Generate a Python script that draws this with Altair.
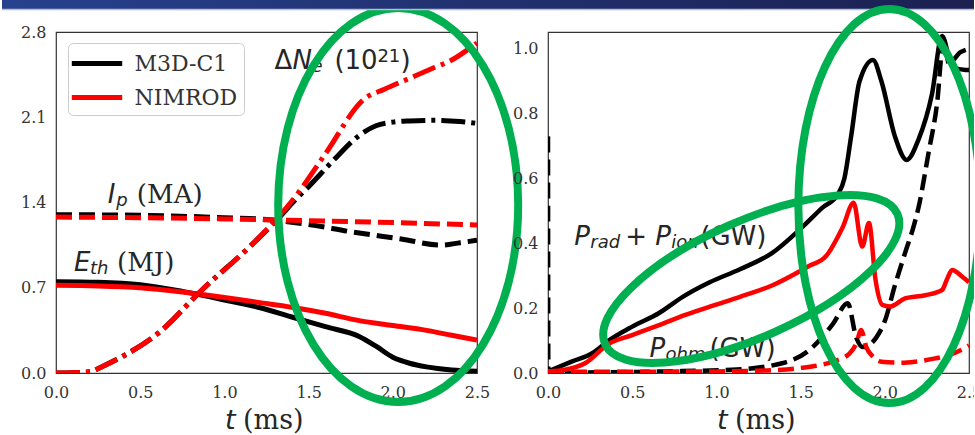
import altair as alt
import pandas as pd

# ---------------- left panel: E_th, I_p, Delta N_e ----------------
MODELS = ["M3D-C1", "NIMROD"]

T_ETH_M3D = [0, 0.25, 0.5, 0.75, 1.0, 1.2, 1.4, 1.6, 1.8, 1.9, 2.0, 2.1, 2.2, 2.35, 2.5]
ETH_M3D = [0.75, 0.745, 0.725, 0.67, 0.60, 0.54, 0.46, 0.38, 0.30, 0.22, 0.13, 0.08, 0.05, 0.025, 0.015]
T_ETH_NIM = [0, 0.25, 0.5, 0.75, 1.0, 1.2, 1.4, 1.6, 1.8, 2.0, 2.2, 2.35, 2.5]
ETH_NIM = [0.72, 0.715, 0.70, 0.665, 0.62, 0.58, 0.54, 0.49, 0.43, 0.39, 0.35, 0.31, 0.27]

T_IP_M3D = [0, 0.5, 1.0, 1.25, 1.5, 1.75, 2.05, 2.29, 2.4, 2.5]
IP_M3D = [1.30, 1.295, 1.275, 1.26, 1.22, 1.16, 1.10, 1.05, 1.07, 1.09]
T_IP_NIM = [0, 0.5, 1.0, 1.5, 2.0, 2.5]
IP_NIM = [1.28, 1.275, 1.265, 1.25, 1.235, 1.215]

T_NE_M3D = [0, 0.1, 0.2, 0.27, 0.4, 0.61, 0.865, 1.16, 1.32, 1.42, 1.5, 1.65, 1.8, 1.9, 2.0, 2.1, 2.25, 2.4, 2.5]
NE_M3D = [0, 0.002, 0.01, 0.05, 0.14, 0.33, 0.68, 1.05, 1.27, 1.42, 1.53, 1.75, 1.95, 2.03, 2.06, 2.07, 2.075, 2.065, 2.05]
T_NE_NIM = [0, 0.1, 0.2, 0.27, 0.4, 0.61, 0.865, 1.16, 1.32, 1.4, 1.6, 1.83, 1.95, 2.1, 2.25, 2.35, 2.45, 2.5]
NE_NIM = [0, 0.002, 0.01, 0.05, 0.14, 0.33, 0.68, 1.05, 1.28, 1.41, 1.80, 2.25, 2.33, 2.42, 2.51, 2.57, 2.66, 2.71]

# ---------------- right panel: radiated + ionization power, ohmic power ----------------
T_PRAD_M3D = [0, 0.14, 0.26, 0.36, 0.5, 0.66, 0.8, 0.96, 1.14, 1.33, 1.51, 1.63, 1.72, 1.76, 1.80, 1.85,
              1.93, 1.98, 2.06, 2.13, 2.2, 2.28, 2.34, 2.40, 2.48, 2.5]
PRAD_M3D = [0.005, 0.035, 0.06, 0.10, 0.143, 0.185, 0.235, 0.28, 0.32, 0.37, 0.45, 0.51, 0.55, 0.60, 0.73, 0.90,
            0.966, 0.90, 0.73, 0.657, 0.72, 0.86, 1.04, 0.945, 0.935, 0.935]
T_PRAD_NIM = [0, 0.1, 0.22, 0.36, 0.5, 0.66, 0.82, 0.98, 1.14, 1.33, 1.55, 1.65, 1.75, 1.815, 1.866, 1.906,
              1.945, 1.985, 2.03, 2.12, 2.24, 2.34, 2.37, 2.40, 2.46, 2.5]
PRAD_NIM = [0.005, 0.01, 0.03, 0.09, 0.117, 0.148, 0.18, 0.208, 0.235, 0.27, 0.33, 0.36, 0.45, 0.525, 0.39, 0.463,
            0.287, 0.21, 0.205, 0.23, 0.24, 0.256, 0.29, 0.318, 0.297, 0.28]

T_POHM_M3D = [0, 0.002, 0.3, 0.7, 1.09, 1.39, 1.55, 1.69, 1.78, 1.83, 1.87, 1.95, 2.0, 2.06, 2.12, 2.17,
              2.2, 2.26, 2.31, 2.35, 2.38, 2.45, 2.5]
POHM_M3D = [0.73, 0.0, 0.002, 0.005, 0.01, 0.03, 0.07, 0.15, 0.215, 0.11, 0.08, 0.11, 0.16, 0.27, 0.37, 0.45,
            0.51, 0.68, 0.83, 1.03, 0.955, 0.99, 1.0]
T_POHM_NIM = [0, 0.5, 1.0, 1.3, 1.49, 1.69, 1.79, 1.83, 1.86, 1.89, 1.93, 1.98, 2.1, 2.18, 2.3, 2.38, 2.45, 2.5]
POHM_NIM = [0.004, 0.004, 0.005, 0.008, 0.015, 0.035, 0.06, 0.09, 0.133, 0.08, 0.05, 0.035, 0.032, 0.035, 0.045,
            0.055, 0.07, 0.085]

# axis ticks
X_TICKS = [0, 0.5, 1.0, 1.5, 2.0, 2.5]
Y_TICKS_LEFT = [0, 0.7, 1.4, 2.1, 2.8]
Y_TICKS_RIGHT = [0, 0.2, 0.4, 0.6, 0.8, 1.0]

# highlight ellipse centres (data coordinates)
ELLIPSE_LEFT = (2.032, 1.379)
ELLIPSE_RIGHT_BIG = (2.027, 0.515)
ELLIPSE_RIGHT_SMALL = (1.207, 0.290)

GREEN = "#00b050"
BLACK = "#000000"
RED = "#ff0000"
SANS = "DejaVu Sans"
SERIF = "DejaVu Serif"
INK = "#262626"
W, H = 421, 341


def series(ts, vs, model):
    return pd.DataFrame({"t": ts, "v": vs, "model": model, "i": range(len(ts))})


x_scale = alt.Scale(domain=[0, 2.5], nice=False, zero=False)
x_enc = alt.X("t:Q", scale=x_scale,
              axis=alt.Axis(values=X_TICKS, format=".1f", title=None, labelFlush=False))
y_left = alt.Y("v:Q", scale=alt.Scale(domain=[0, 2.8], nice=False),
               axis=alt.Axis(values=Y_TICKS_LEFT, format=".1f", title=None))
y_right = alt.Y("v:Q", scale=alt.Scale(domain=[0, 1.052], nice=False),
                axis=alt.Axis(values=Y_TICKS_RIGHT, format=".1f", title=None))

# legend: a 50 px line sample per model
legend = alt.Legend(orient="none", legendX=12, legendY=11, title=None,
                    symbolType="M -2.1 0 L 2.1 0", symbolSize=576, symbolStrokeWidth=5,
                    symbolOffset=8.5, labelOffset=23, labelFont=SERIF, labelFontSize=22,
                    labelColor="#333333", rowPadding=8, padding=6,
                    strokeColor="#cccccc", fillColor="white", cornerRadius=5)
color_enc = alt.Color("model:N", scale=alt.Scale(domain=MODELS, range=[BLACK, RED]), legend=legend)


def model_lines(frames, dash, width, y_enc):
    df = pd.concat(frames, ignore_index=True)
    mark = dict(strokeWidth=width, interpolate="monotone", clip=True, strokeCap="butt")
    if dash:
        mark["strokeDash"] = dash
    return alt.Chart(df).mark_line(**mark).encode(
        x=x_enc, y=y_enc, color=color_enc, order="i:Q")


def single_line(ts, vs, color, dash, width, y_enc):
    mark = dict(strokeWidth=width, interpolate="monotone", clip=True, strokeCap="butt", color=color)
    if dash:
        mark["strokeDash"] = dash
    return alt.Chart(series(ts, vs, "")).mark_line(**mark).encode(x=x_enc, y=y_enc, order="i:Q")


def ellipse(center, rx, ry, angle, y_enc):
    k = 0.5523
    path = (f"M {rx} 0 C {rx} {k * ry} {k * rx} {ry} 0 {ry} "
            f"C {-k * rx} {ry} {-rx} {k * ry} {-rx} 0 "
            f"C {-rx} {-k * ry} {-k * rx} {-ry} 0 {-ry} "
            f"C {k * rx} {-ry} {rx} {-k * ry} {rx} 0 Z")
    mark = dict(shape=path, size=4, filled=False, strokeWidth=8, color=GREEN, opacity=1)
    if angle:
        mark["angle"] = angle
    df = pd.DataFrame({"t": [center[0]], "v": [center[1]]})
    return alt.Chart(df).mark_point(**mark).encode(x=x_enc, y=y_enc)


def math_text(anchor, pieces):
    """pieces: (text, font, italic, size, dx, dy) laid out from a data-space anchor."""
    layers = []
    for text, font, italic, size, dx, dy in pieces:
        mark = dict(text=text, font=font, fontSize=size, align="left", baseline="alphabetic",
                    dx=dx, dy=dy, color=INK)
        if italic:
            mark["fontStyle"] = "italic"
        layers.append(alt.Chart(pd.DataFrame({"a": [0]})).mark_text(**mark).encode(
            x=alt.X(datum=anchor[0], type="quantitative"),
            y=alt.Y(datum=anchor[1], type="quantitative")))
    return layers


def axis_title():
    one = pd.DataFrame({"a": [0]})
    t = alt.Chart(one).mark_text(text="t", font=SANS, fontStyle="italic", fontSize=27, align="left",
                                 baseline="alphabetic", color=INK).encode(
        x=alt.value(169), y=alt.value(H + 56))
    ms = alt.Chart(one).mark_text(text="(ms)", font=SERIF, fontSize=27, align="left",
                                  baseline="alphabetic", color=INK).encode(
        x=alt.value(187), y=alt.value(H + 56))
    return [t, ms]


# slide header strip above the panels
one_row = pd.DataFrame({"a": [0]})
banner = alt.Chart(one_row).mark_rect(
    color=alt.LinearGradient(gradient="linear", x1=0, x2=1, y1=0, y2=0,
                             stops=[alt.GradientStop(color="#27418e", offset=0),
                                    alt.GradientStop(color="#1b2050", offset=1)])
).encode(x=alt.value(-54), x2=alt.value(921), y=alt.value(-32), y2=alt.value(-23))
banner_edge = alt.Chart(one_row).mark_rule(color="#b4bdd6", strokeWidth=1.5).encode(
    x=alt.value(-54), x2=alt.value(921), y=alt.value(-22.5))

left_layers = [
    model_lines([series(T_ETH_M3D, ETH_M3D, MODELS[0]), series(T_ETH_NIM, ETH_NIM, MODELS[1])],
                None, 5, y_left),
    model_lines([series(T_IP_M3D, IP_M3D, MODELS[0]), series(T_IP_NIM, IP_NIM, MODELS[1])],
                [16, 7], 5, y_left),
    model_lines([series(T_NE_M3D, NE_M3D, MODELS[0]), series(T_NE_NIM, NE_NIM, MODELS[1])],
                [24, 6, 4, 6], 5, y_left),
]
left_layers += math_text((0.308, 1.398), [
    ("I", SANS, True, 26, 0, 0), ("p", SANS, True, 18, 8.5, 3), ("(MA)", SERIF, False, 26, 29, 0)])
left_layers += math_text((0.107, 0.838), [
    ("E", SANS, True, 26, 0, 0), ("th", SANS, True, 18, 16, 3), ("(MJ)", SERIF, False, 26, 43, 0)])
left_layers += math_text((1.297, 2.494), [
    ("Δ", SANS, False, 26, 0, 0), ("N", SANS, True, 26, 18, 0), ("e", SANS, True, 18, 37, 3),
    ("(10", SANS, False, 26, 60, 0), ("21", SANS, False, 18, 103, -7), (")", SANS, False, 26, 126, 0)])
left_layers += axis_title()
left_layers += [ellipse(ELLIPSE_LEFT, 120, 197, 0, y_left), banner, banner_edge]

left = alt.layer(*left_layers).properties(width=W, height=H)

right_layers = [
    single_line(T_POHM_M3D, POHM_M3D, BLACK, [16, 7], 4.5, y_right),
    single_line(T_PRAD_M3D, PRAD_M3D, BLACK, None, 4.5, y_right),
    single_line(T_POHM_NIM, POHM_NIM, RED, [16, 7], 4.5, y_right),
    single_line(T_PRAD_NIM, PRAD_NIM, RED, None, 4.5, y_right),
]
right_layers += math_text((0.156, 0.395), [
    ("P", SANS, True, 26, 0, 0), ("rad", SANS, True, 18, 16, 3), ("+", SANS, False, 26, 51, 0),
    ("P", SANS, True, 26, 81, 0), ("ion", SANS, True, 18, 97, 3), ("(GW)", SANS, False, 26, 126, 0)])
right_layers += math_text((0.602, 0.050), [
    ("P", SANS, True, 26, 0, 0), ("ohm", SANS, True, 18, 16, 3), ("(GW)", SANS, False, 26, 60, 0)])
right_layers += axis_title()
right_layers += [ellipse(ELLIPSE_RIGHT_BIG, 91, 197, 0, y_right),
                 ellipse(ELLIPSE_RIGHT_SMALL, 160, 58, 336, y_right)]

right = alt.layer(*right_layers).properties(width=W, height=H)

# the right-hand ellipse and last tick label run past the page edge and are cut there
chart = alt.hconcat(left, right, spacing=71, bounds="flush").properties(
    padding={"left": 0, "top": -9, "right": -23, "bottom": 0}
).configure_view(
    stroke="#333333", strokeWidth=1.2
).configure_axis(
    domain=False, ticks=False, grid=False, labelFont=SERIF, labelFontSize=16,
    labelColor="#333333", labelPadding=10
).configure_axisX(labelPadding=11)

chart.save("out.html", embed_options={"renderer": "svg", "actions": False})
